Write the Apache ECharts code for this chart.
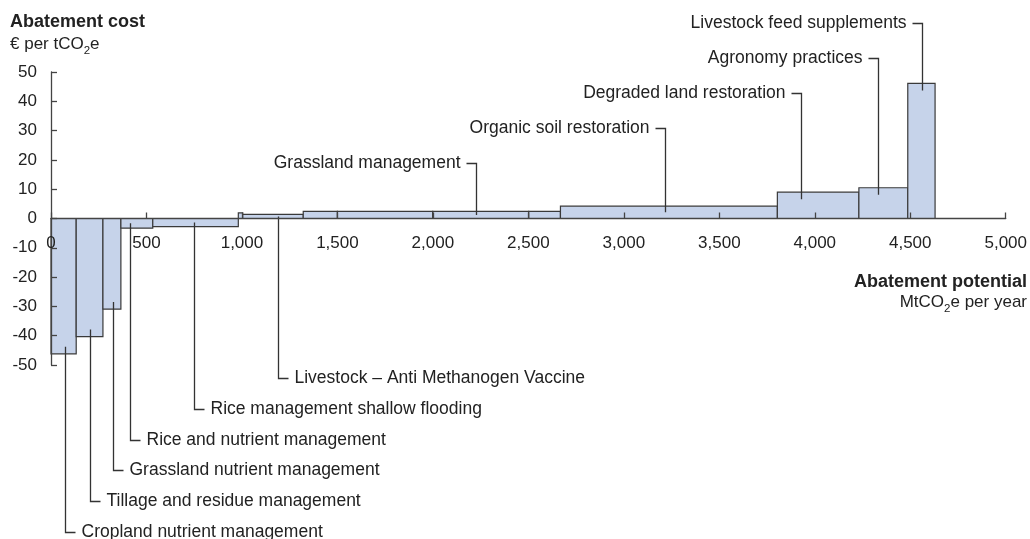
<!DOCTYPE html>
<html><head><meta charset="utf-8">
<script src="https://cdn.jsdelivr.net/npm/echarts@6/dist/echarts.min.js"></script>
<style>html,body{margin:0;padding:0;background:#fff}#c{width:1030px;height:539px}</style>
</head><body><div id="c"></div>
<script>
// ---- data ----
const measures = [
  'Cropland nutrient management',
  'Tillage and residue management',
  'Grassland nutrient management',
  'Rice and nutrient management',
  'Rice management shallow flooding',
  '',
  'Livestock \u2013 Anti Methanogen Vaccine',
  '',
  '',
  'Grassland management',
  '',
  'Organic soil restoration',
  'Degraded land restoration',
  'Agronomy practices',
  'Livestock feed supplements'
];
// abatement potential of each measure, MtCO2e per year (bar widths)
const potentials = [132, 140, 94, 167, 448, 23, 317, 179, 499, 503, 166, 1136, 427, 256, 143];
// abatement cost, EUR per tCO2e (bar heights)
const costs = [-46.2, -40.3, -30.9, -3.3, -2.8, 1.9, 1.4, 2.4, 2.4, 2.4, 2.4, 4.2, 9.0, 10.5, 46.1];
// x position (cumulative MtCO2e) where each label's leader line meets its bar; null = no label
const labelAnchors = [75, 202, 327, 415, 749, null, 1190, null, null, 2227, null, 3217, 3927, 4332, 4562];
const xTicks = {min: 0, max: 5000, interval: 500};
const yTicks = {min: -50, max: 50, interval: 10};

// ---- build ----
const FONT = "'Liberation Sans', Arial, sans-serif";
const barData = [];
let acc = 0;
for (let i = 0; i < potentials.length; i++) {
  barData.push([acc, acc + potentials[i], costs[i]]);
  acc += potentials[i];
}
const labelIdx = [];
labelAnchors.forEach((a, i) => { if (a !== null) labelIdx.push(i); });
const bottomLabels = labelIdx.slice(0, 6);
const topLabels = labelIdx.slice(6);
const labelMeta = {};
bottomLabels.slice().reverse().forEach((i, r) => { labelMeta[i] = {side: 'bottom', rowY: 378 + r * 30.8}; });
topLabels.slice().reverse().forEach((i, r) => { labelMeta[i] = {side: 'top', rowY: 23 + r * 35}; });
const labelData = labelIdx.map(i => [labelAnchors[i], costs[i], i]);

function renderBar(params, api) {
  const p0 = api.coord([api.value(0), 0]);
  const p1 = api.coord([api.value(1), api.value(2)]);
  return {
    type: 'rect',
    shape: {x: p0[0], y: Math.min(p0[1], p1[1]), width: p1[0] - p0[0], height: Math.abs(p1[1] - p0[1])},
    style: {fill: '#c6d3ea', stroke: '#3a3a3a', lineWidth: 1.2}
  };
}

function renderLabel(params, api) {
  const ax = api.value(0), cost = api.value(1), i = api.value(2);
  const p = api.coord([ax, cost]);
  const z = api.coord([ax, 0]);
  const meta = labelMeta[i];
  const x = Math.round(p[0]) + 0.5;
  const inner = Math.min(7, Math.abs(z[1] - p[1]) * 0.5);
  const yIn = p[1] + (cost >= 0 ? 1 : -1) * inner;
  const ry = Math.round(meta.rowY) + 0.5;
  const lineStyle = {stroke: '#333', lineWidth: 1.3, fill: 'none'};
  if (meta.side === 'top') {
    return {type: 'group', children: [
      {type: 'polyline', shape: {points: [[x - 10, ry], [x, ry], [x, yIn]]}, style: lineStyle},
      {type: 'text', style: {text: measures[i], x: x - 16, y: ry, align: 'right', verticalAlign: 'middle',
        fontFamily: FONT, fontSize: 17.5, fill: '#222'}}
    ]};
  }
  return {type: 'group', children: [
    {type: 'polyline', shape: {points: [[x, yIn], [x, ry], [x + 10, ry]]}, style: lineStyle},
    {type: 'text', style: {text: measures[i], x: x + 16, y: ry, align: 'left', verticalAlign: 'middle',
      fontFamily: FONT, fontSize: 17.5, fill: '#222'}}
  ]};
}

// text with a subscript part, e.g. tCO2e
const mctx = document.createElement('canvas').getContext('2d');
function textWidth(t, size) { mctx.font = size + 'px ' + FONT; return mctx.measureText(t).width; }
function subscriptText(pre, sub, post, x, yMid, alignRight) {
  const big = 17, small = 11.5;
  const w1 = textWidth(pre, big), w2 = textWidth(sub, small), w3 = textWidth(post, big);
  const x0 = alignRight ? x - (w1 + w2 + w3) : x;
  const st = (t, s) => ({text: t, fontFamily: FONT, fontSize: s, fill: '#222', verticalAlign: 'middle', align: 'left'});
  return {type: 'group', children: [
    {type: 'text', x: x0, y: yMid, style: st(pre, big)},
    {type: 'text', x: x0 + w1, y: yMid + 6, style: st(sub, small)},
    {type: 'text', x: x0 + w1 + w2, y: yMid, style: st(post, big)}
  ]};
}

const chart = echarts.init(document.getElementById('c'), null, {renderer: 'canvas'});
const gridTop = 72, gridBottom = 174;
const plotH = 539 - gridTop - gridBottom;
const zeroOffset = -plotH * (0 - yTicks.min) / (yTicks.max - yTicks.min);
chart.setOption({
  animation: false,
  backgroundColor: '#fff',
  grid: {left: 51, right: 23, top: gridTop, bottom: gridBottom},
  xAxis: {
    type: 'value', min: xTicks.min, max: xTicks.max, interval: xTicks.interval,
    offset: zeroOffset, z: 10,
    axisLine: {show: true, onZero: false, lineStyle: {color: '#444', width: 1.3}},
    axisTick: {show: true, inside: true, length: 6, lineStyle: {color: '#444', width: 1.3}},
    splitLine: {show: false},
    axisLabel: {margin: 16, fontSize: 17, fontFamily: FONT, color: '#222',
      formatter: v => v.toLocaleString('en-US')}
  },
  yAxis: {
    type: 'value', min: yTicks.min, max: yTicks.max, interval: yTicks.interval, z: 10,
    axisLine: {show: true, onZero: false, lineStyle: {color: '#444', width: 1.3}},
    axisTick: {show: true, inside: true, length: 6, lineStyle: {color: '#444', width: 1.3}},
    splitLine: {show: false},
    axisLabel: {margin: 14, fontSize: 17, fontFamily: FONT, color: '#222'}
  },
  graphic: [
    {type: 'text', x: 10, y: 22.5, style: {text: 'Abatement cost', fontFamily: FONT, fontWeight: 'bold',
      fontSize: 18, fill: '#222', verticalAlign: 'middle'}},
    subscriptText('\u20ac per tCO', '2', 'e', 10, 44.5, false),
    {type: 'text', x: 1027, y: 282, style: {text: 'Abatement potential', fontFamily: FONT, fontWeight: 'bold',
      fontSize: 18, fill: '#222', align: 'right', verticalAlign: 'middle'}},
    subscriptText('MtCO', '2', 'e per year', 1027, 302.5, true)
  ],
  series: [
    {type: 'custom', renderItem: renderBar, data: barData, encode: {x: [0, 1], y: 2}, clip: false, silent: true, z: 2},
    {type: 'custom', renderItem: renderLabel, data: labelData, encode: {x: 0, y: 1}, clip: false, silent: true, z: 3}
  ]
});
</script>
</body></html>
